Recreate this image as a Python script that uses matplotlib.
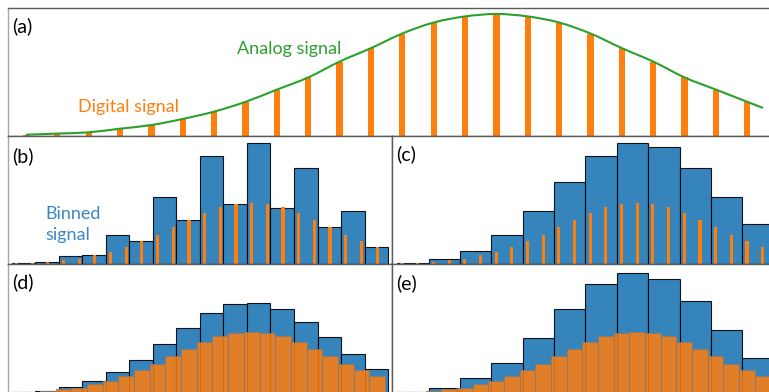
import numpy as np
import matplotlib
matplotlib.use("Agg")
import matplotlib.pyplot as plt
from matplotlib.path import Path
from matplotlib.patches import PathPatch

plt.rcParams['font.family'] = ['Lato', 'DejaVu Sans']

# ---- data -------------------------------------------------------------
# digital samples of the analog (Gaussian-like) signal, peak normalised to 1
signal = [0.01, 0.02, 0.03, 0.06, 0.09, 0.14, 0.20, 0.28, 0.38, 0.48, 0.61, 0.72,
          0.84, 0.93, 0.98, 1.00, 0.98, 0.93, 0.84, 0.72, 0.61, 0.48, 0.38, 0.28]
# analog curve continues half a sample past the last sample
analog_tail = 0.23

# (b) 16 bins, samples summed per bin
binned_16_points = [0.02, 0.03, 0.13, 0.14, 0.48, 0.38, 1.10, 0.72,
                    1.77, 0.98, 1.98, 0.92, 1.57, 0.61, 0.87, 0.28]
# (c) 12 bins, samples summed per bin
binned_12_points = [0.01, 0.09, 0.21, 0.47, 0.87, 1.34, 1.77, 1.99, 1.91, 1.57, 1.10, 0.65]
# (d) 16 bins, samples treated as unit-width boxes
binned_16_boxes = [0.02, 0.04, 0.10, 0.19, 0.34, 0.54, 0.80, 1.07,
                   1.31, 1.46, 1.48, 1.37, 1.17, 0.91, 0.64, 0.39]
# (e) 12 bins, samples treated as unit-width boxes
binned_12_boxes = [0.02, 0.09, 0.25, 0.50, 0.90, 1.38, 1.78, 1.97, 1.87, 1.51, 1.03, 0.57]

panel_labels = ['(a)', '(b)', '(c)', '(d)', '(e)']

# ---- styling ----------------------------------------------------------
BLUE = '#1f77b4'
ORANGE = '#ff7f0e'
GREEN = '#2ca02c'
W, H = 769, 392

fig = plt.figure(figsize=(W / 100, H / 100), dpi=100)


def px_rect(x0, y0, x1, y1):
    return [x0 / W, 1 - y1 / H, (x1 - x0) / W, (y1 - y0) / H]


n = len(signal)
offset = 0.3
sample_x = np.arange(n) + offset
span = 24.49

ax_a = fig.add_axes(px_rect(8, 8, 776, 136))
ax_b = fig.add_axes(px_rect(8, 136, 392, 264))
ax_c = fig.add_axes(px_rect(392, 136, 776, 264))
ax_d = fig.add_axes(px_rect(8, 264, 392, 393))
ax_e = fig.add_axes(px_rect(392, 264, 776, 393))

for ax, left, top, light_left in [(ax_a, -0.274, 1.049, True),
                                  (ax_b, -0.24, 2.098, True),
                                  (ax_c, -0.34, 2.098, False),
                                  (ax_d, -0.24, 2.115, True),
                                  (ax_e, -0.34, 2.115, False)]:
    ax.set_xlim(left, left + span)
    ax.set_ylim(0, top)
    ax.set_xticks([])
    ax.set_yticks([])
    for side, sp in ax.spines.items():
        sp.set_linewidth(1.0)
        sp.set_color('#5a5a5a')
    if light_left:
        ax.spines['left'].set_color('#a8a8a8')

# ---- (a) analog curve with digital samples ----------------------------
ax_a.bar(sample_x, signal, width=0.2, color=ORANGE, zorder=2)

cx = np.append(sample_x, n - 1 + 0.5 + offset)
cy = np.append(np.array(signal), analog_tail)
slopes = np.gradient(cy, cx)
verts = [(cx[0], cy[0])]
codes = [Path.MOVETO]
for i in range(len(cx) - 1):
    h = cx[i + 1] - cx[i]
    verts += [(cx[i] + h / 3, cy[i] + slopes[i] * h / 3),
              (cx[i + 1] - h / 3, cy[i + 1] - slopes[i + 1] * h / 3),
              (cx[i + 1], cy[i + 1])]
    codes += [Path.CURVE4] * 3
ax_a.add_patch(PathPatch(Path(verts, codes), facecolor='none', edgecolor=GREEN,
                         linewidth=1.5, zorder=3))

# ---- (b)-(e) binned signals -------------------------------------------
edges16 = np.arange(16) * 1.5
edges12 = np.arange(12) * 2.0
blue_kw = dict(align='edge', color=BLUE, alpha=0.9, edgecolor='black', linewidth=0.8, zorder=1)

ax_b.bar(edges16, binned_16_points, width=1.5, **blue_kw)
ax_b.bar(sample_x, signal, width=0.2, color=ORANGE, zorder=2)

ax_c.bar(edges12, binned_12_points, width=2.0, **blue_kw)
ax_c.bar(sample_x, signal, width=0.2, color=ORANGE, zorder=2)

box_kw = dict(color=ORANGE, alpha=0.85, edgecolor='#8c7a6c', linewidth=0.8, zorder=2)
ax_d.bar(edges16, binned_16_boxes, width=1.5, **blue_kw)
ax_d.bar(sample_x, signal, width=1.0, **box_kw)

ax_e.bar(edges12, binned_12_boxes, width=2.0, **blue_kw)
ax_e.bar(sample_x, signal, width=1.0, **box_kw)

# ---- annotations ------------------------------------------------------
def fig_text(x, y, s, **kw):
    fig.text(x / W, 1 - y / H, s, **kw)


label_pos = [(12, 26), (12, 156), (396.5, 154), (12, 282), (396.5, 283)]
for (x, y), lab in zip(label_pos, panel_labels):
    fig_text(x, y, lab, fontsize=14, color='black', ha='left', va='center')

fig_text(236.7, 54.3, 'Analog signal', fontsize=13, color=GREEN, ha='left', va='baseline')
fig_text(78.3, 111.7, 'Digital signal', fontsize=13, color=ORANGE, ha='left', va='baseline')
# multi-line text with va='baseline' anchors the last line's baseline
fig_text(45, 240, 'Binned\nsignal', fontsize=13, color='#3b87c4', ha='left',
         va='baseline', linespacing=1.4)

fig.savefig('out.png', dpi=100)
